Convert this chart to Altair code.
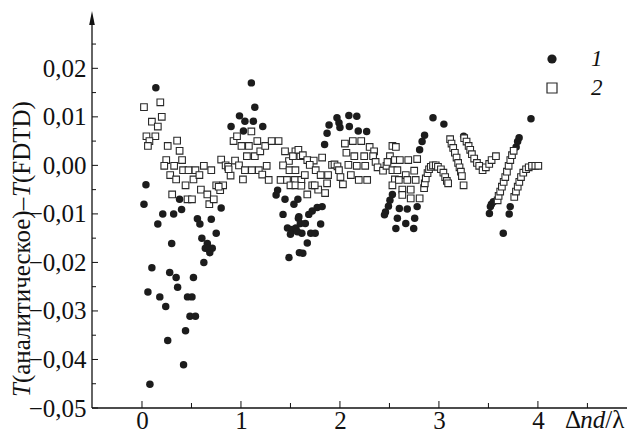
import altair as alt
import pandas as pd

# ---------------- data ----------------
# series 1: filled circles
x1 = [0.14, 0.04, 0.02, 0.21, 0.32, 0.40, 0.38, 0.16, 0.56, 0.585, 0.70, 0.80, 0.75, 0.605, 0.30, 0.66, 0.64, 0.675, 0.71, 0.685,
      0.625, 0.10, 0.28, 0.345, 0.52, 0.36, 0.06, 0.18, 0.24, 0.46, 0.505, 0.485, 0.54, 0.44, 0.26, 0.42, 0.08,
      1.105, 1.14, 0.985, 1.04, 1.125, 0.90, 1.025, 1.22,
      1.37, 1.355, 1.445, 1.535, 1.575, 1.425, 1.58, 1.47, 1.52, 1.555, 1.50, 1.59, 1.485, 1.615, 1.57,
      1.585, 1.60, 1.65, 1.705, 1.75, 1.67, 1.625, 1.685, 1.72, 1.77, 1.82, 1.805,
      1.845, 1.87, 1.89, 1.97, 1.99, 2.00, 2.09, 2.17, 2.095, 2.185, 2.27,
      2.53, 2.505, 2.49, 2.46, 2.45, 2.60, 2.68, 2.78, 2.58, 2.665, 2.755, 2.565, 2.745,
      2.805, 2.83, 2.855, 2.94, 3.05, 3.25,
      3.51, 3.52, 3.53, 3.55, 3.71, 3.72, 3.65, 3.78, 3.795, 3.81, 3.93]
y1 = [0.0160, -0.0040, -0.0080, -0.0100, -0.0100, -0.0091, -0.0070, -0.0121, -0.0110, -0.0121, -0.0111, -0.0088, -0.0140,
      -0.0150, -0.0161, -0.0161, -0.0171, -0.0171, -0.0171, -0.0180, -0.0200, -0.0211, -0.0221, -0.0231, -0.0231, -0.0251,
      -0.0261, -0.0271, -0.0291, -0.0271, -0.0271, -0.0311, -0.0311, -0.0341, -0.0361, -0.0411, -0.0451,
      0.0170, 0.0120, 0.0102, 0.0091, 0.0091, 0.0080, 0.0071, 0.0080,
      -0.0051, -0.0061, -0.0070, -0.0080, -0.0070, -0.0101, -0.0109, -0.0129, -0.0132, -0.0129, -0.0142, -0.0180, -0.0190,
      -0.0140, -0.0137,
      -0.0106, -0.0120, -0.0120, -0.0140, -0.0140, -0.0160, -0.0181, -0.0101, -0.0094, -0.0087, -0.0085, -0.0121,
      0.0043, 0.0066, 0.0083, 0.0098, 0.0088, 0.0078, 0.0103, 0.0101, 0.0080, 0.0071, 0.0070,
      -0.0060, -0.0072, -0.0084, -0.0096, -0.0102, -0.0089, -0.0090, -0.0085, -0.0109, -0.0120, -0.0109, -0.0130, -0.0130,
      0.0032, 0.0049, 0.0062, 0.0098, 0.0085, 0.0060,
      -0.0099, -0.0085, -0.0080, -0.0075, -0.0100, -0.0085, -0.0140, 0.0038, 0.0049, 0.0057, 0.0096]

# series 2: open squares
x2 = [0.02, 0.185, 0.20, 0.10, 0.16, 0.045, 0.135, 0.075, 0.06, 0.26, 0.355, 0.38, 0.245, 0.225, 0.325, 0.405, 0.415,
      0.47, 0.54, 0.285, 0.345, 0.44, 0.52, 0.305, 0.46, 0.505, 0.58, 0.595, 0.66, 0.68, 0.725, 0.625, 0.70, 0.75, 0.79,
      0.82, 0.775,
      0.80, 0.845, 0.87, 0.895, 0.875, 0.94, 0.98, 1.02, 1.04, 1.11, 1.18, 1.26, 1.215, 1.28, 0.925, 0.96, 1.005, 1.08,
      1.165, 1.06, 1.14, 1.105, 1.195, 1.245, 1.31, 1.38,
      1.445, 1.55, 1.485, 1.525, 1.60, 1.425, 1.49, 1.55, 1.40, 1.465, 1.545, 1.61, 1.50, 1.55, 1.58, 1.625, 1.645, 1.61,
      1.67, 1.735, 1.82, 1.695, 1.755, 1.805, 1.88, 1.72, 1.78, 1.85, 1.87, 1.67, 1.745, 1.92, 1.945, 1.975, 1.99,
      2.005, 2.03, 2.11, 2.19, 2.275, 2.05, 2.13, 2.215, 2.30, 2.345, 2.065, 2.145, 2.245, 2.335, 2.085, 2.17, 2.255,
      2.36, 2.38, 2.435, 2.47, 2.53, 2.505, 2.48, 2.555, 2.53, 2.555, 2.53,
      2.605, 2.69, 2.78, 2.58, 2.665, 2.75, 2.595, 2.68, 2.765, 2.63, 2.715, 2.63, 2.715, 2.805, 2.565,
      2.85, 2.857, 2.867, 2.885, 2.90, 2.918, 2.94, 2.968, 2.99, 3.02, 3.045, 3.063, 3.08, 3.093,
      3.113, 3.127, 3.144, 3.161, 3.178, 3.194, 3.208, 3.222, 3.232, 3.249,
      3.255, 3.279, 3.30, 3.316, 3.333, 3.356, 3.384, 3.407, 3.441, 3.474, 3.508, 3.532, 3.576,
      3.593, 3.603, 3.619, 3.636, 3.654, 3.67, 3.687, 3.704, 3.721, 3.738, 3.755,
      3.761, 3.778, 3.796, 3.812, 3.829, 3.852, 3.88, 3.907, 3.94, 3.974, 4.004]
y2 = [0.0120, 0.0130, 0.0100, 0.0090, 0.0080, 0.0060, 0.0060, 0.0050, 0.0040, 0.0040, 0.0051, 0.0030, 0.0011, -0.0001,
      -0.0001, 0.0011, -0.0010, -0.0010, -0.0010, -0.0020, -0.0029, -0.0041, -0.0029, -0.0060, -0.0070, -0.0070, -0.0020,
      -0.0050, -0.0060, -0.0080, -0.0070, -0.0001, -0.0010, -0.0041, -0.0051, -0.0041, -0.0044,
      0.0012, 0.0000, -0.0003, -0.0021, -0.0008, 0.0010, 0.0000, -0.0029, -0.0010, -0.0010, -0.0010, -0.0001, -0.0019,
      -0.0030, 0.0050, 0.0060, 0.0040, 0.0040, 0.0050, 0.0019, 0.0019, 0.0070, 0.0029, 0.0040, 0.0050, 0.0050,
      0.0029, 0.0029, 0.0009, 0.0019, 0.0019, 0.0000, -0.0010, -0.0010, -0.0030, -0.0030, -0.0030, -0.0030, -0.0041,
      -0.0041, 0.0032, 0.0021, -0.0020, -0.0042, 0.0011, 0.0010, 0.0016, 0.0001, -0.0010, -0.0020, -0.0020, -0.0041,
      -0.0050, -0.0057, -0.0037, -0.0060, -0.0041, 0.0001, 0.0002, -0.0002, -0.0010,
      -0.0024, -0.0039, -0.0020, -0.0030, -0.0030, 0.0045, 0.0050, 0.0050, 0.0038, 0.0029, 0.0026, 0.0019, 0.0019, 0.0019,
      0.0001, -0.0001, -0.0001, 0.0007, -0.0004, -0.0011, -0.0001, 0.0040, 0.0019, 0.0007, 0.0011, -0.0010, -0.0029,
      -0.0041,
      0.0011, 0.0011, 0.0013, -0.0010, -0.0020, -0.0011, -0.0030, -0.0030, -0.0030, -0.0050, -0.0050, -0.0061, -0.0068,
      -0.0068, 0.0038,
      -0.0047, -0.0037, -0.0027, -0.0016, -0.0008, -0.0003, 0.0000, 0.0000, -0.0003, -0.0008, -0.0015, -0.0024, -0.0032,
      -0.0037,
      0.0054, 0.0045, 0.0036, 0.0026, 0.0016, 0.0005, -0.0004, -0.0013, -0.0022, -0.0041,
      0.0056, 0.0049, 0.0040, 0.0032, 0.0023, 0.0014, 0.0005, -0.0001, -0.0010, -0.0004, 0.0003, 0.0011, 0.0019,
      -0.0072, -0.0063, -0.0054, -0.0044, -0.0034, -0.0024, -0.0013, -0.0001, 0.0011, 0.0021, 0.0030,
      -0.0065, -0.0054, -0.0044, -0.0034, -0.0024, -0.0015, -0.0008, -0.0004, -0.0001, -0.0001, -0.0001]

y_major = [-0.05, -0.04, -0.03, -0.02, -0.01, 0.0, 0.01, 0.02]
y_minor = [-0.045, -0.035, -0.025, -0.015, -0.005, 0.005, 0.015, 0.025]
x_major = [0, 1, 2, 3, 4]
x_minor = [0.5, 1.5, 2.5, 3.5, 4.5]
legend_labels = ["1", "2"]

# ---------------- chart ----------------
FONT = "Liberation Serif"
FS = 25
INK = "#111111"
W, H = 535, 395

xs = alt.Scale(domain=[-0.505, 4.9], nice=False, zero=False)
ys = alt.Scale(domain=[-0.05, 0.0314], nice=False, zero=False)

x_axis = alt.Axis(values=x_major, ticks=False, domain=False, grid=False, labelFont=FONT, labelFontSize=FS,
                  labelColor=INK, labelPadding=0, format="d")
y_axis = alt.Axis(values=y_major, ticks=False, domain=False, grid=False, labelFont=FONT, labelFontSize=FS,
                  labelColor=INK, labelPadding=6,
                  labelExpr="replace(format(datum.value, '.2f'), '.', ',')")


def X(f):
    return alt.X(f, type="quantitative", scale=xs, axis=x_axis, title=None)


def Y(f):
    return alt.Y(f, type="quantitative", scale=ys, axis=y_axis, title=None)


df1 = pd.DataFrame({"x": x1, "y": y1})
df2 = pd.DataFrame({"x": x2, "y": y2})
one = pd.DataFrame({"a": [0]})

s1 = alt.Chart(df1).mark_circle(size=56, color="#1c1c1c", opacity=1).encode(x=X("x"), y=Y("y"))
s2 = alt.Chart(df2).mark_point(shape="square", size=44, fill="white", stroke="#2a2a2a", strokeWidth=1.1,
                               opacity=1).encode(x=X("x"), y=Y("y"))

yt_major = alt.Chart(pd.DataFrame({"v": y_major})).mark_rule(color=INK, strokeWidth=1).encode(
    y=Y("v"), x=alt.value(0), x2=alt.value(6))
yt_minor = alt.Chart(pd.DataFrame({"v": y_minor})).mark_rule(color=INK, strokeWidth=1).encode(
    y=Y("v"), x=alt.value(0), x2=alt.value(4))
xt_major = alt.Chart(pd.DataFrame({"v": x_major})).mark_rule(color=INK, strokeWidth=1).encode(
    x=X("v"), y=alt.value(H), y2=alt.value(H - 7))
xt_minor = alt.Chart(pd.DataFrame({"v": x_minor})).mark_rule(color=INK, strokeWidth=1).encode(
    x=X("v"), y=alt.value(H), y2=alt.value(H - 5))

ydom = alt.Chart(one).mark_rule(color=INK, strokeWidth=1.3).encode(
    x=alt.value(0), y=alt.value(4), y2=alt.value(H))
xdom = alt.Chart(one).mark_rule(color=INK, strokeWidth=1.3).encode(
    y=alt.value(H), x=alt.value(0), x2=alt.value(W))
arrow = alt.Chart(one).mark_point(shape="M0,-1L0.4,1L-0.4,1Z", size=196, filled=True, color=INK,
                                  opacity=1).encode(x=alt.value(0), y=alt.value(5))

# legend
LFS = 23
leg_c = alt.Chart(one).mark_circle(size=85, color="#1c1c1c", opacity=1).encode(x=alt.value(460), y=alt.value(46))
leg_s = alt.Chart(one).mark_point(shape="square", size=100, fill="white", stroke="#2a2a2a", strokeWidth=1.2,
                                  opacity=1).encode(x=alt.value(460), y=alt.value(75))
leg_t1 = alt.Chart(one).mark_text(text=legend_labels[0], font=FONT, fontSize=LFS, fontStyle="italic", color=INK,
                                  align="left", baseline="middle").encode(x=alt.value(499), y=alt.value(46))
leg_t2 = alt.Chart(one).mark_text(text=legend_labels[1], font=FONT, fontSize=LFS, fontStyle="italic", color=INK,
                                  align="left", baseline="middle").encode(x=alt.value(499), y=alt.value(75))

# x axis title  "Δnd/λ"
xt_pieces = [("Δ", "normal", 473), ("nd", "italic", 488.3), ("/λ", "normal", 513.3)]
x_title = [alt.Chart(one).mark_text(text=t, font=FONT, fontSize=FS, fontStyle=st, color=INK, align="left",
                                    baseline="alphabetic").encode(x=alt.value(px), y=alt.value(415))
           for t, st, px in xt_pieces]

# y axis title  "T(аналитическое)–T(FDTD)"
yt_pieces = [("T", "italic", 384), ("(аналитическое)–", "normal", 370.1), ("T", "italic", 183.9),
             ("(FDTD)", "normal", 170.0)]
y_title = [alt.Chart(one).mark_text(text=t, font=FONT, fontSize=FS, fontStyle=st, color=INK, align="left",
                                    baseline="middle", angle=270).encode(x=alt.value(-70), y=alt.value(py))
           for t, st, py in yt_pieces]

chart = alt.layer(
    yt_major, yt_minor, xt_major, xt_minor, ydom, xdom, arrow,
    s1, s2, leg_c, leg_s, leg_t1, leg_t2, *x_title, *y_title
).properties(
    width=W, height=H,
    autosize=alt.AutoSizeParams(type="none"),
    padding={"left": 84, "top": 5, "right": 0, "bottom": 24},
    background="white",
).configure_view(stroke=None)

chart.save("out.html", embed_options={"renderer": "svg", "actions": False})
